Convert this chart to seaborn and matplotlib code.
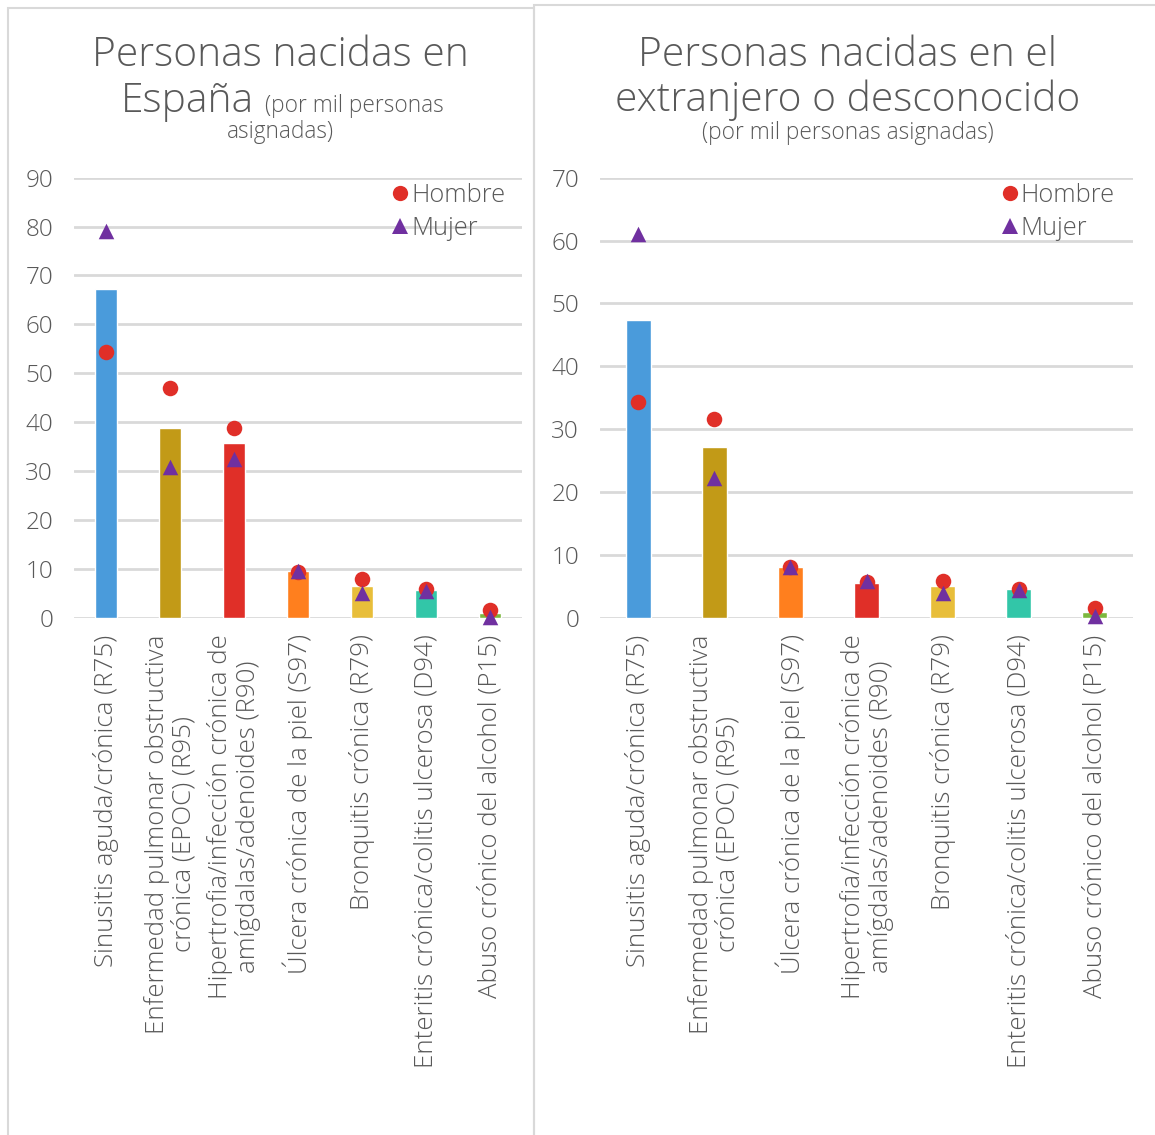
import matplotlib
matplotlib.use("Agg")
import matplotlib.pyplot as plt
import matplotlib.patches as mpatches
from matplotlib.lines import Line2D
import seaborn as sns
import pandas as pd

# ---- data (por mil personas asignadas) ----
categories_es = [
    "Sinusitis aguda/crónica (R75)",
    "Enfermedad pulmonar obstructiva\ncrónica (EPOC) (R95)",
    "Hipertrofia/infección crónica de\namígdalas/adenoides (R90)",
    "Úlcera crónica de la piel (S97)",
    "Bronquitis crónica (R79)",
    "Enteritis crónica/colitis ulcerosa (D94)",
    "Abuso crónico del alcohol (P15)",
]
total_es = [67.2, 38.8, 35.7, 9.6, 6.5, 5.7, 1.0]
hombre_es = [54.4, 46.9, 38.9, 9.4, 8.0, 5.9, 1.6]
mujer_es = [79.0, 30.9, 32.5, 9.6, 5.0, 5.4, 0.2]

categories_ext = [
    "Sinusitis aguda/crónica (R75)",
    "Enfermedad pulmonar obstructiva\ncrónica (EPOC) (R95)",
    "Úlcera crónica de la piel (S97)",
    "Hipertrofia/infección crónica de\namígdalas/adenoides (R90)",
    "Bronquitis crónica (R79)",
    "Enteritis crónica/colitis ulcerosa (D94)",
    "Abuso crónico del alcohol (P15)",
]
total_ext = [47.3, 27.2, 8.1, 5.5, 5.0, 4.6, 0.9]
hombre_ext = [34.3, 31.6, 8.0, 5.7, 5.9, 4.6, 1.5]
mujer_ext = [61.0, 22.2, 8.1, 5.9, 3.9, 4.4, 0.3]

category_colors = {
    "Sinusitis aguda/crónica (R75)": "#4A9BDB",
    "Enfermedad pulmonar obstructiva\ncrónica (EPOC) (R95)": "#C29A17",
    "Hipertrofia/infección crónica de\namígdalas/adenoides (R90)": "#E02F28",
    "Úlcera crónica de la piel (S97)": "#FF7F1E",
    "Bronquitis crónica (R79)": "#E8BE3A",
    "Enteritis crónica/colitis ulcerosa (D94)": "#32C6A8",
    "Abuso crónico del alcohol (P15)": "#7CB83E",
}
HOMBRE_COLOR = "#E02F28"
MUJER_COLOR = "#7030A0"
TEXT_COLOR = "#595959"
GRID_COLOR = "#D9D9D9"

sns.set_theme(style="white")
FONT = ["Open Sans", "DejaVu Sans"]
plt.rcParams["font.family"] = FONT
plt.rcParams["font.weight"] = "light"

W, H = 1155, 1135
fig = plt.figure(figsize=(W / 100, H / 100), dpi=100)


def fx(px):
    return px / W


def fy(py):
    return 1 - py / H


# panel frames
fig.add_artist(mpatches.Rectangle((fx(8), fy(1140)), fx(534) - fx(8), fy(8) - fy(1140),
                                  transform=fig.transFigure, fill=False,
                                  edgecolor=GRID_COLOR, linewidth=1.5))
fig.add_artist(mpatches.Rectangle((fx(534), fy(1140)), fx(1160) - fx(534), fy(5) - fy(1140),
                                  transform=fig.transFigure, fill=False,
                                  edgecolor=GRID_COLOR, linewidth=1.5))


def draw_panel(ax, cats, total, hombre, mujer, ymax):
    df = pd.DataFrame({"cat": cats, "total": total, "hombre": hombre, "mujer": mujer})
    sns.barplot(data=df, x="cat", y="total", hue="cat", order=cats,
                palette=category_colors, width=0.33, legend=False,
                saturation=1, ax=ax, zorder=2)
    sns.scatterplot(data=df, x="cat", y="hombre", color=HOMBRE_COLOR, marker="o",
                    s=125, linewidth=0, ax=ax, zorder=3, clip_on=False)
    sns.scatterplot(data=df, x="cat", y="mujer", color=MUJER_COLOR, marker="^",
                    s=125, linewidth=0, ax=ax, zorder=4, clip_on=False)
    ax.set_xlim(-0.5, len(cats) - 0.5)
    ax.set_ylim(0, ymax)
    ax.set_yticks(range(0, ymax + 1, 10))
    ax.yaxis.grid(True, color=GRID_COLOR, linewidth=2)
    ax.set_axisbelow(True)
    for s in ax.spines.values():
        s.set_visible(False)
    ax.set_xlabel("")
    ax.set_ylabel("")
    ax.tick_params(axis="y", length=0, pad=15, labelsize=17.5, labelcolor=TEXT_COLOR)
    ax.tick_params(axis="x", length=0, pad=12)
    ax.set_xticks(range(len(cats)))
    ax.set_xticklabels(cats, rotation=90, ha="center", va="top",
                       multialignment="center", fontsize=18.6, color=TEXT_COLOR,
                       linespacing=1.1)
    handles = [
        Line2D([], [], linestyle="none", marker="o", markersize=11,
               markerfacecolor=HOMBRE_COLOR, markeredgewidth=0, label="Hombre"),
        Line2D([], [], linestyle="none", marker="^", markersize=11,
               markerfacecolor=MUJER_COLOR, markeredgewidth=0, label="Mujer"),
    ]
    leg = ax.legend(handles=handles, loc="upper right", frameon=False,
                    fontsize=18.3, handletextpad=0.05, handlelength=0.75,
                    labelspacing=0.32, borderaxespad=0.0,
                    bbox_to_anchor=(0.985, 1.012))
    for t in leg.get_texts():
        t.set_color(TEXT_COLOR)


ax1 = fig.add_axes([fx(74), fy(617.7), fx(522) - fx(74), fy(177.7) - fy(617.7)])
draw_panel(ax1, categories_es, total_es, hombre_es, mujer_es, 90)

ax2 = fig.add_axes([fx(600), fy(617.7), fx(1133) - fx(600), fy(177.7) - fy(617.7)])
draw_panel(ax2, categories_ext, total_ext, hombre_ext, mujer_ext, 70)

# titles
big = 29.3
small = 16.3
fig.text(fx(280), fy(66), "Personas nacidas en", ha="center", va="baseline",
         fontsize=big, color=TEXT_COLOR)
fig.text(fx(254), fy(112), "España", ha="right", va="baseline",
         fontsize=big, color=TEXT_COLOR)
fig.text(fx(265), fy(112), "(por mil personas", ha="left", va="baseline",
         fontsize=small, color=TEXT_COLOR)
fig.text(fx(280), fy(138), "asignadas)", ha="center", va="baseline",
         fontsize=small, color=TEXT_COLOR)

fig.text(fx(848), fy(66), "Personas nacidas en el", ha="center", va="baseline",
         fontsize=big, color=TEXT_COLOR)
fig.text(fx(848), fy(111), "extranjero o desconocido", ha="center", va="baseline",
         fontsize=big, color=TEXT_COLOR)
fig.text(fx(848), fy(139), "(por mil personas asignadas)", ha="center", va="baseline",
         fontsize=small, color=TEXT_COLOR)

fig.savefig("out.png", dpi=100, facecolor="white")
